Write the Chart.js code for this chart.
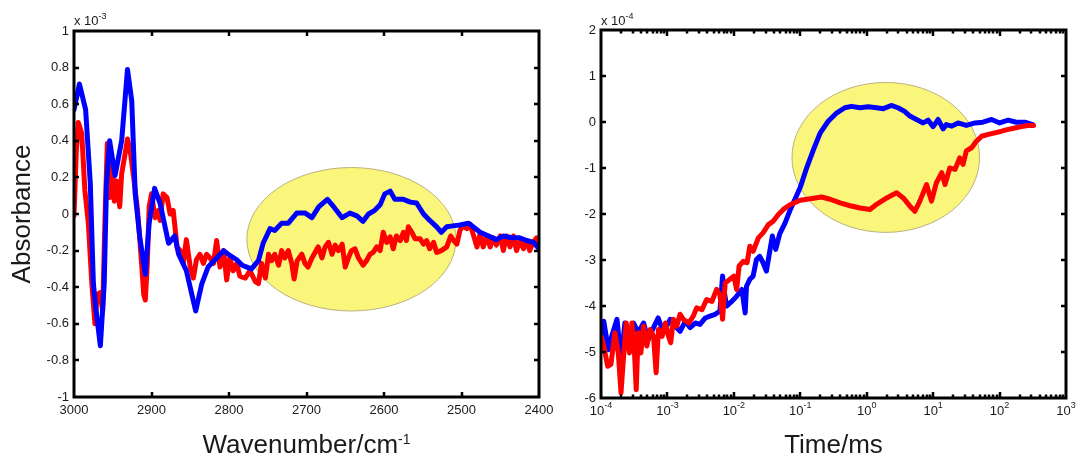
<!DOCTYPE html>
<html>
<head>
<meta charset="utf-8">
<script src="https://cdn.jsdelivr.net/npm/chart.js@4.4.1/dist/chart.umd.min.js"></script>
<style>
html, body { margin: 0; padding: 0; background: #fff; }
#left { position: absolute; left: 0; top: 0; width: 560px; height: 459px; }
#right { position: absolute; left: 560px; top: 0; width: 518px; height: 459px; }
</style>
</head>
<body>
<div id="left"><canvas id="left_chart"></canvas></div>
<div id="right"><canvas id="right_chart"></canvas></div>
<script>
// left panel: IR difference spectra (x 10^-3)
const leftBlueWn = [3000, 2993, 2985, 2979, 2975, 2972, 2966, 2961, 2958, 2954, 2947, 2938.5, 2931, 2925.5, 2921, 2915, 2908, 2903, 2896, 2889, 2878, 2870, 2865, 2855, 2843, 2835, 2827, 2818, 2807, 2801, 2790, 2783, 2777, 2771, 2762, 2756, 2747, 2741, 2732, 2723.5, 2712.6, 2701.6, 2693, 2684, 2673, 2665, 2654, 2644, 2635, 2627, 2620, 2612, 2605, 2599, 2592, 2586, 2575, 2566, 2558, 2549, 2541, 2532, 2526, 2519, 2511, 2502, 2491, 2485, 2476, 2465, 2455, 2446, 2435, 2425, 2416, 2407, 2400];
const leftBlueAbs = [0.57, 0.71, 0.57, 0.17, -0.38, -0.51, -0.72, -0.38, 0.17, 0.40, 0.21, 0.40, 0.79, 0.62, 0.11, -0.13, -0.33, -0.05, 0.14, 0.06, -0.16, -0.12, -0.22, -0.31, -0.53, -0.38, -0.29, -0.25, -0.20, -0.22, -0.25, -0.28, -0.29, -0.30, -0.255, -0.16, -0.08, -0.09, -0.05, -0.05, 0.005, 0.005, -0.02, 0.04, 0.08, 0.04, -0.02, 0.005, -0.01, -0.04, 0.0, 0.02, 0.05, 0.11, 0.125, 0.08, 0.08, 0.065, 0.06, 0.0, -0.035, -0.07, -0.10, -0.07, -0.065, -0.06, -0.05, -0.07, -0.10, -0.12, -0.14, -0.12, -0.13, -0.13, -0.145, -0.155, -0.19];
const leftRedWn = [3000, 2997, 2994.5, 2990, 2986, 2981.5, 2977, 2973, 2970, 2966.5, 2963, 2960, 2957, 2954, 2951, 2948, 2945, 2941, 2938.5, 2934, 2931, 2927, 2923, 2918, 2914, 2910, 2908, 2905.4, 2903, 2900, 2895.5, 2891, 2889, 2885, 2880, 2876, 2872, 2867, 2863, 2859, 2855, 2850, 2846, 2842, 2837.6, 2833, 2829, 2824.5, 2820, 2816, 2811.6, 2807, 2803, 2799, 2794.5, 2790, 2786, 2779, 2773, 2766, 2762, 2758, 2753, 2749, 2745, 2741, 2736, 2732, 2728, 2723.5, 2719, 2716, 2712, 2706, 2702, 2698, 2693, 2689, 2685, 2680, 2676, 2671.6, 2667, 2663, 2659, 2654, 2650, 2646, 2642, 2637.4, 2633, 2627, 2622.6, 2618, 2614, 2609.4, 2605, 2601, 2596.5, 2592, 2588, 2584, 2579, 2575, 2571, 2568.6, 2564, 2560, 2553.5, 2549, 2545, 2541, 2536, 2532, 2526, 2519, 2514, 2510, 2506, 2502, 2498, 2493, 2489, 2485, 2480, 2476, 2472, 2467.5, 2463, 2459, 2455, 2450, 2446, 2442, 2437.4, 2433, 2429, 2424.5, 2420, 2416, 2412, 2407.6, 2403, 2400];
const leftRedAbs = [-0.01, 0.35, 0.50, 0.44, 0.13, -0.05, -0.38, -0.60, -0.44, -0.43, -0.53, -0.02, 0.385, 0.09, 0.29, 0.07, 0.18, 0.04, 0.22, 0.33, 0.41, 0.33, 0.20, 0.02, -0.20, -0.44, -0.47, -0.27, 0.04, 0.11, -0.02, 0.02, -0.035, 0.11, 0.09, 0.0, 0.02, -0.18, -0.20, -0.27, -0.14, -0.29, -0.35, -0.25, -0.22, -0.27, -0.22, -0.24, -0.27, -0.145, -0.29, -0.20, -0.36, -0.24, -0.31, -0.27, -0.34, -0.35, -0.31, -0.37, -0.38, -0.27, -0.35, -0.22, -0.255, -0.22, -0.28, -0.20, -0.24, -0.20, -0.27, -0.355, -0.255, -0.22, -0.27, -0.29, -0.24, -0.21, -0.18, -0.24, -0.18, -0.155, -0.22, -0.17, -0.20, -0.165, -0.29, -0.24, -0.20, -0.19, -0.24, -0.28, -0.255, -0.22, -0.21, -0.18, -0.20, -0.10, -0.155, -0.125, -0.19, -0.12, -0.145, -0.10, -0.145, -0.07, -0.10, -0.135, -0.135, -0.165, -0.145, -0.19, -0.155, -0.21, -0.20, -0.18, -0.12, -0.145, -0.165, -0.09, -0.065, -0.08, -0.055, -0.11, -0.18, -0.11, -0.18, -0.12, -0.18, -0.13, -0.17, -0.12, -0.20, -0.12, -0.18, -0.12, -0.20, -0.145, -0.19, -0.145, -0.20, -0.155, -0.13, -0.19];
// highlighted region [x from, x to, y top, y bottom]
const leftHighlight = [2777, 2507, 0.254, -0.53];

// right panel: kinetics (x 10^-4), time in ms
const rightBlueTime = [1.0e-4, 1.10e-4, 1.29e-4, 1.45e-4, 1.74e-4, 2.0e-4, 2.29e-4, 2.69e-4, 3.09e-4, 3.63e-4, 4.37e-4, 5.13e-4, 6.17e-4, 7.24e-4, 8.71e-4, 1.10e-3, 1.32e-3, 1.55e-3, 1.86e-3, 2.19e-3, 2.63e-3, 3.09e-3, 3.72e-3, 4.37e-3, 5.25e-3, 6.17e-3, 6.76e-3, 7.08e-3, 7.76e-3, 9.33e-3, 1.10e-2, 1.32e-2, 1.48e-2, 1.55e-2, 1.74e-2, 1.95e-2, 2.19e-2, 2.45e-2, 2.75e-2, 3.09e-2, 3.47e-2, 3.80e-2, 4.27e-2, 4.90e-2, 5.89e-2, 7.0e-2, 8.32e-2, 0.1, 0.126, 0.158, 0.20, 0.263, 0.355, 0.468, 0.589, 0.794, 1.05, 1.41, 1.78, 2.34, 2.95, 3.72, 4.47, 5.62, 7.08, 8.41, 10, 11.9, 14.1, 15.8, 19.1, 23.7, 31.6, 42.7, 56.2, 75.9, 100, 135, 178, 240, 316];
const rightBlueAbs = [-4.66, -4.33, -4.95, -4.66, -4.29, -5.16, -4.37, -4.66, -4.37, -4.58, -4.37, -4.73, -4.47, -4.26, -4.58, -4.29, -4.44, -4.55, -4.33, -4.47, -4.37, -4.40, -4.26, -4.22, -4.18, -4.11, -3.35, -3.64, -4.00, -3.90, -3.79, -3.64, -4.15, -3.57, -3.42, -3.35, -2.99, -2.92, -3.06, -3.24, -2.81, -2.48, -2.77, -2.43, -2.2, -1.92, -1.68, -1.42, -0.98, -0.60, -0.235, 0.017, 0.20, 0.31, 0.34, 0.31, 0.33, 0.31, 0.29, 0.36, 0.31, 0.23, 0.13, 0.055, -0.02, 0.04, -0.10, 0.055, -0.15, -0.055, -0.09, -0.02, -0.075, -0.02, -0.005, 0.055, -0.02, 0.04, -0.005, -0.005, -0.055];
const rightRedTime = [1.0e-4, 1.10e-4, 1.26e-4, 1.41e-4, 1.62e-4, 1.82e-4, 2.0e-4, 2.19e-4, 2.40e-4, 2.69e-4, 2.92e-4, 3.16e-4, 3.39e-4, 3.63e-4, 3.98e-4, 4.37e-4, 4.90e-4, 5.50e-4, 6.17e-4, 6.76e-4, 7.33e-4, 8.32e-4, 9.33e-4, 1.04e-3, 1.12e-3, 1.23e-3, 1.38e-3, 1.55e-3, 1.74e-3, 2.09e-3, 2.45e-3, 2.75e-3, 3.31e-3, 3.89e-3, 4.68e-3, 5.50e-3, 6.17e-3, 6.76e-3, 7.41e-3, 8.71e-3, 1.0e-2, 1.10e-2, 1.20e-2, 1.38e-2, 1.58e-2, 1.74e-2, 1.95e-2, 2.34e-2, 2.75e-2, 3.31e-2, 3.89e-2, 4.68e-2, 5.56e-2, 7.0e-2, 0.1, 0.141, 0.209, 0.282, 0.398, 0.562, 0.794, 1.12, 1.41, 2.0, 2.82, 3.55, 4.47, 5.31, 6.31, 7.94, 9.44, 11.2, 13.5, 15.1, 17.8, 21.4, 25.1, 28.2, 31.6, 38.0, 44.7, 53.7, 67.6, 85.1, 107, 135, 170, 214, 269, 324];
const rightRedAbs = [-4.66, -4.87, -5.31, -5.27, -4.58, -5.02, -5.89, -5.09, -4.37, -5.02, -4.37, -4.87, -5.82, -4.58, -5.02, -4.44, -4.87, -4.51, -4.66, -5.45, -4.51, -4.66, -4.37, -4.66, -4.80, -4.29, -4.44, -4.18, -4.29, -4.37, -4.22, -4.04, -4.08, -3.86, -3.90, -3.64, -3.75, -4.29, -3.50, -3.42, -3.35, -3.64, -3.13, -3.03, -3.06, -2.70, -2.81, -2.52, -2.41, -2.23, -2.16, -2.01, -1.90, -1.80, -1.70, -1.67, -1.63, -1.68, -1.76, -1.82, -1.87, -1.90, -1.79, -1.65, -1.54, -1.65, -1.83, -1.94, -1.72, -1.36, -1.72, -1.32, -1.10, -1.36, -1.0, -1.03, -0.78, -0.92, -0.63, -0.56, -0.42, -0.31, -0.27, -0.235, -0.20, -0.16, -0.13, -0.10, -0.075, -0.075];
const rightHighlight = [0.075, 50, 0.86, -2.40];
const logDecades = [-4, -3, -2, -1, 0, 1, 2, 3];

const FONT = "'Liberation Sans', Arial, sans-serif";
Chart.defaults.font.family = FONT;
Chart.defaults.color = "#222";

function pts(xs, ys) {
    return xs.map((x, i) => ({ x: x, y: ys[i] }));
}

// text with a raised exponent, e.g. "x 10" + "-3"
function drawSup(ctx, x, y, base, sup, size, supSize, rise, align) {
    ctx.font = size + "px " + FONT;
    const w1 = ctx.measureText(base).width;
    ctx.font = supSize + "px " + FONT;
    const w2 = ctx.measureText(sup).width;
    const x0 = align === "center" ? x - (w1 + w2) / 2 : x;
    ctx.fillStyle = "#1a1a1a";
    ctx.textAlign = "left";
    ctx.textBaseline = "alphabetic";
    ctx.font = size + "px " + FONT;
    ctx.fillText(base, x0, y);
    ctx.font = supSize + "px " + FONT;
    ctx.fillText(sup, x0 + w1, y - rise);
}

// no extra room for overhanging end labels
function fixPad(s) {
    s.paddingLeft = 0;
    s.paddingRight = 0;
}

// matlab style box, inward ticks, highlight ellipse
function makeFrame(cfg) {
    return {
        id: "frame",
        beforeDatasetsDraw(chart) {
            const { ctx, scales } = chart;
            const e = cfg.ellipse;
            const x0 = scales.x.getPixelForValue(e[0]), x1 = scales.x.getPixelForValue(e[1]);
            const y0 = scales.y.getPixelForValue(e[2]), y1 = scales.y.getPixelForValue(e[3]);
            ctx.save();
            ctx.beginPath();
            ctx.ellipse((x0 + x1) / 2, (y0 + y1) / 2, Math.abs(x1 - x0) / 2, Math.abs(y1 - y0) / 2, 0, 0, Math.PI * 2);
            ctx.fillStyle = "#faf57b";
            ctx.fill();
            ctx.lineWidth = 1;
            ctx.strokeStyle = "rgba(170,160,110,0.8)";
            ctx.stroke();
            ctx.restore();
        },
        afterDraw(chart) {
            const { ctx, chartArea: a, scales } = chart;
            ctx.save();
            ctx.strokeStyle = "#000";
            ctx.lineWidth = 2.5;
            ctx.beginPath();
            scales.y.ticks.forEach(t => {
                if (t.value <= scales.y.min || t.value >= scales.y.max) return;
                const p = Math.round(scales.y.getPixelForValue(t.value));
                ctx.moveTo(a.left, p); ctx.lineTo(a.left + 5, p);
                ctx.moveTo(a.right, p); ctx.lineTo(a.right - 5, p);
            });
            if (cfg.log) {
                for (let n = -4; n < 3; n++) {
                    for (let k = 1; k < 10; k++) {
                        const v = k * Math.pow(10, n);
                        if (v <= scales.x.min) continue;
                        const p = Math.round(scales.x.getPixelForValue(v));
                        const len = k === 1 ? 6 : 3.5;
                        ctx.moveTo(p, a.top); ctx.lineTo(p, a.top + len);
                        ctx.moveTo(p, a.bottom); ctx.lineTo(p, a.bottom - len);
                    }
                }
            } else {
                scales.x.ticks.forEach(t => {
                    if (t.value <= scales.x.min || t.value >= scales.x.max) return;
                    const p = Math.round(scales.x.getPixelForValue(t.value));
                    ctx.moveTo(p, a.top); ctx.lineTo(p, a.top + 5);
                    ctx.moveTo(p, a.bottom); ctx.lineTo(p, a.bottom - 5);
                });
            }
            ctx.stroke();
            ctx.lineWidth = 3;
            ctx.strokeRect(a.left, a.top, a.right - a.left, a.bottom - a.top);

            // exponent note above the y axis
            drawSup(ctx, a.left, 25, "x 10", cfg.exponent, 13, 9, 6, "left");

            // log tick labels
            if (cfg.log) {
                logDecades.forEach(n => {
                    const p = scales.x.getPixelForValue(Math.pow(10, n));
                    drawSup(ctx, p, 415, "10", String(n), 13, 9, 7, "center");
                });
            }

            // x axis title
            const cx = (a.left + a.right) / 2;
            drawSup(ctx, cx, 453, cfg.xTitle, cfg.xTitleSup, 26, 14, 9, "center");
            ctx.restore();
        }
    };
}

const leftChart = new Chart(document.getElementById("left_chart"), {
    type: "line",
    data: {
        datasets: [{
            data: pts(leftBlueWn, leftBlueAbs),
            borderColor: "#0000ff",
            borderWidth: 5
        }, {
            data: pts(leftRedWn, leftRedAbs),
            borderColor: "#ff0000",
            borderWidth: 5
        }]
    },
    options: {
        responsive: true,
        maintainAspectRatio: false,
        animation: false,
        layout: { padding: { left: 0, right: 21, top: 31, bottom: 0 } },
        elements: { point: { radius: 0 }, line: { tension: 0, borderJoinStyle: "round", borderCapStyle: "round" } },
        plugins: { legend: { display: false }, tooltip: { enabled: false } },
        scales: {
            x: {
                type: "linear",
                reverse: true,
                min: 2400,
                max: 3000,
                grid: { display: false, drawTicks: false },
                border: { display: false },
                ticks: { stepSize: 100, padding: 6, font: { size: 13 }, color: "#1a1a1a", maxRotation: 0, callback: v => String(v) },
                afterFit: s => { s.height = 62; fixPad(s); }
            },
            y: {
                min: -1,
                max: 1,
                grid: { display: false, drawTicks: false },
                border: { display: false },
                ticks: { stepSize: 0.2, padding: 5, font: { size: 13 }, color: "#1a1a1a", callback: v => String(Number(v.toFixed(1))) },
                title: { display: true, text: "Absorbance", color: "#1a1a1a", font: { size: 26, lineHeight: 1 }, padding: { top: 10, bottom: 0 } },
                afterFit: s => { s.width = 74; s.paddingTop = 0; s.paddingBottom = 0; }
            }
        }
    },
    plugins: [makeFrame({ ellipse: leftHighlight, exponent: "-3", log: false, xTitle: "Wavenumber/cm", xTitleSup: "-1" })]
});

const rightChart = new Chart(document.getElementById("right_chart"), {
    type: "line",
    data: {
        datasets: [{
            data: pts(rightRedTime, rightRedAbs),
            borderColor: "#ff0000",
            borderWidth: 5
        }, {
            data: pts(rightBlueTime, rightBlueAbs),
            borderColor: "#0000ff",
            borderWidth: 5
        }]
    },
    options: {
        responsive: true,
        maintainAspectRatio: false,
        animation: false,
        layout: { padding: { left: 0, right: 12, top: 30, bottom: 0 } },
        elements: { point: { radius: 0 }, line: { tension: 0, borderJoinStyle: "round", borderCapStyle: "round" } },
        plugins: { legend: { display: false }, tooltip: { enabled: false } },
        scales: {
            x: {
                type: "logarithmic",
                min: 1e-4,
                max: 1e3,
                grid: { display: false, drawTicks: false },
                border: { display: false },
                ticks: { display: false },
                afterFit: s => { s.height = 61; fixPad(s); }
            },
            y: {
                min: -6,
                max: 2,
                grid: { display: false, drawTicks: false },
                border: { display: false },
                ticks: { stepSize: 1, padding: 5, font: { size: 13 }, color: "#1a1a1a" },
                afterFit: s => { s.width = 41; s.paddingTop = 0; s.paddingBottom = 0; }
            }
        }
    },
    plugins: [makeFrame({ ellipse: rightHighlight, exponent: "-4", log: true, xTitle: "Time/ms", xTitleSup: "" })]
});
</script>
</body>
</html>
